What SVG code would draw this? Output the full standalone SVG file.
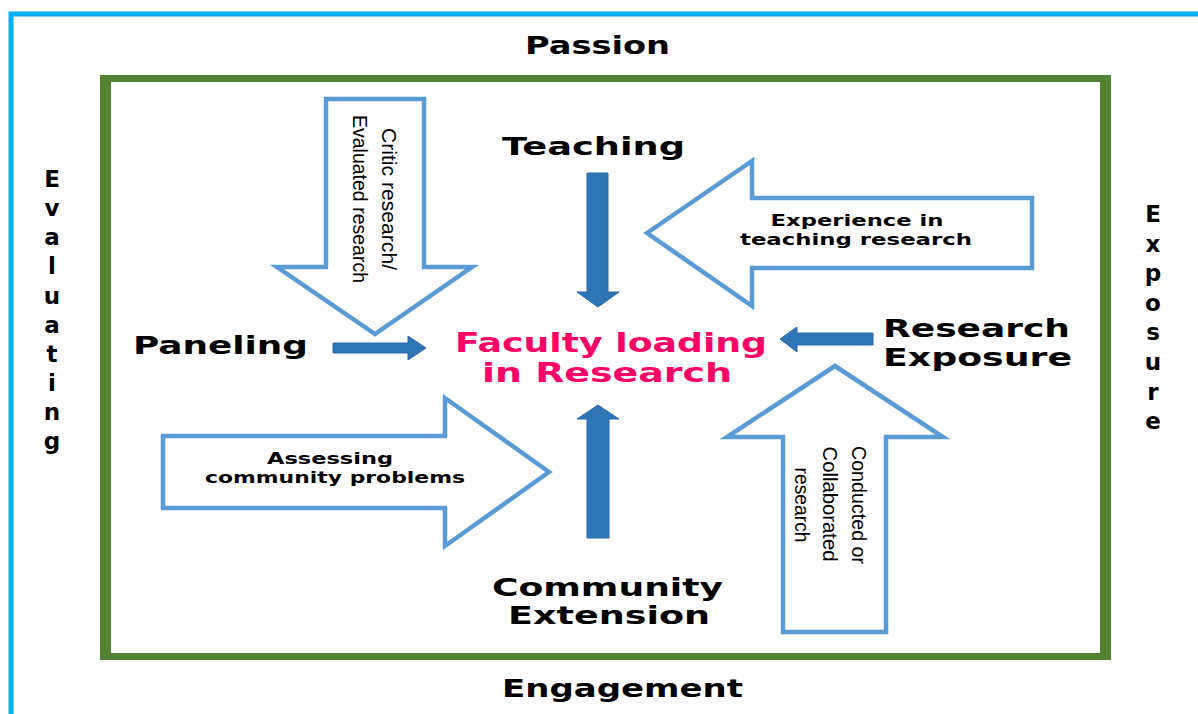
<svg xmlns="http://www.w3.org/2000/svg" width="1198" height="714" viewBox="0 0 1198 714">
<defs>
<style>
.big{font-family:"DejaVu Sans",Verdana,sans-serif;font-weight:bold;font-size:25px;fill:#000;}
.let{font-family:"DejaVu Sans",Verdana,sans-serif;font-weight:bold;font-size:23px;fill:#000;text-anchor:middle;}
.mid{text-anchor:middle;}
.hot{font-family:"DejaVu Sans",Verdana,sans-serif;font-weight:bold;font-size:27px;fill:#FF0066;text-anchor:middle;}
.sm{font-family:"DejaVu Sans",Verdana,sans-serif;font-weight:bold;font-size:15px;fill:#000;text-anchor:middle;}
.rot{font-family:"Liberation Sans",Arial,sans-serif;font-size:21px;fill:#000;text-anchor:middle;}
.outline{fill:#fff;stroke:#5B9BD5;stroke-width:4.5;stroke-linejoin:miter;}
.solid{fill:#2E75B6;stroke:#2A69A6;stroke-width:1;}
</style>
</defs>
<rect x="0" y="0" width="1198" height="714" fill="#fff"/>
<g id="frames">
<rect x="11" y="14" width="1220" height="740" fill="none" stroke="#00B0F0" stroke-width="5"/>
<path d="M100,75 H1111 V660 H100 Z M111,82 V653 H1100 V82 Z" fill="#548235" fill-rule="evenodd"/>
</g>
<g id="side-labels">
<text class="big mid" x="597.5" y="54" textLength="145" lengthAdjust="spacingAndGlyphs">Passion</text>
<text class="big mid" x="622.5" y="697" textLength="241" lengthAdjust="spacingAndGlyphs">Engagement</text>
<g id="evaluating">
<text class="let" x="52" y="187">E</text>
<text class="let" x="52" y="216">v</text>
<text class="let" x="52" y="245">a</text>
<text class="let" x="52" y="274">l</text>
<text class="let" x="52" y="304">u</text>
<text class="let" x="52" y="333">a</text>
<text class="let" x="52" y="362">t</text>
<text class="let" x="52" y="391">i</text>
<text class="let" x="52" y="420">n</text>
<text class="let" x="52" y="449">g</text>
</g>
<g id="exposure">
<text class="let" x="1153" y="222">E</text>
<text class="let" x="1153" y="252">x</text>
<text class="let" x="1153" y="281">p</text>
<text class="let" x="1153" y="311">o</text>
<text class="let" x="1153" y="340">s</text>
<text class="let" x="1153" y="370">u</text>
<text class="let" x="1153" y="400">r</text>
<text class="let" x="1153" y="429">e</text>
</g>
</g>
<g id="center">
<text class="hot" x="611" y="352" textLength="312" lengthAdjust="spacingAndGlyphs">Faculty loading</text>
<text class="hot" x="607" y="382" textLength="250" lengthAdjust="spacingAndGlyphs">in Research</text>
</g>
<g id="teaching">
<text class="big mid" x="593.5" y="155" textLength="183" lengthAdjust="spacingAndGlyphs">Teaching</text>
</g>
<g id="paneling">
<text class="big" x="133" y="354" textLength="175" lengthAdjust="spacingAndGlyphs">Paneling</text>
</g>
<g id="research-exposure">
<text class="big" x="883" y="337" textLength="187" lengthAdjust="spacingAndGlyphs">Research</text>
<text class="big" x="883" y="366" textLength="189" lengthAdjust="spacingAndGlyphs">Exposure</text>
</g>
<g id="community-extension">
<text class="big mid" x="607.5" y="596" style="font-size:24px" textLength="231" lengthAdjust="spacingAndGlyphs">Community</text>
<text class="big mid" x="609" y="624" style="font-size:24px" textLength="202" lengthAdjust="spacingAndGlyphs">Extension</text>
</g>
<g id="arrow-critic">
<polygon class="outline" points="326,99 424,99 424,267 472,267 375,334 277,267 326,267"/>
<g transform="translate(382,199) rotate(90)">
<text class="rot" x="0" y="0" textLength="142" lengthAdjust="spacingAndGlyphs">Critic research/</text>
<text class="rot" x="0" y="29" textLength="168" lengthAdjust="spacingAndGlyphs">Evaluated research</text>
</g>
</g>
<g id="arrow-experience">
<polygon class="outline" points="647,233 752,161 752,198 1032,198 1032,268 752,268 752,306"/>
<text class="sm" x="857" y="226" textLength="173" lengthAdjust="spacingAndGlyphs">Experience in</text>
<text class="sm" x="856" y="245" textLength="232" lengthAdjust="spacingAndGlyphs">teaching research</text>
</g>
<g id="arrow-conducted">
<polygon class="outline" points="835,366 943,437 886,437 886,632 783,632 783,437 727,437"/>
<g transform="translate(852,505) rotate(90)">
<text class="rot" x="0" y="0" textLength="118" lengthAdjust="spacingAndGlyphs">Conducted or</text>
<text class="rot" x="-1" y="29" textLength="115" lengthAdjust="spacingAndGlyphs">Collaborated</text>
<text class="rot" x="0" y="57" textLength="75" lengthAdjust="spacingAndGlyphs">research</text>
</g>
</g>
<g id="arrow-assessing">
<polygon class="outline" points="163,436 445,436 445,398 549,472 445,546 445,508 163,508"/>
<text class="sm" x="330" y="464" textLength="126" lengthAdjust="spacingAndGlyphs">Assessing</text>
<text class="sm" x="335" y="483" textLength="260" lengthAdjust="spacingAndGlyphs">community problems</text>
</g>
<g id="connectors">
<polygon class="solid" points="587,173 608,173 608,292 619,292 598,307 577,292 587,292"/>
<polygon class="solid" points="587,538 609,538 609,419 619,419 598,405 577,419 587,419"/>
<polygon class="solid" points="333,343 408,343 408,336 426,348 408,360 408,353 333,353"/>
<polygon class="solid" points="873,333 797,333 797,327 780,339 797,352 797,345 873,345"/>
</g>
</svg>
